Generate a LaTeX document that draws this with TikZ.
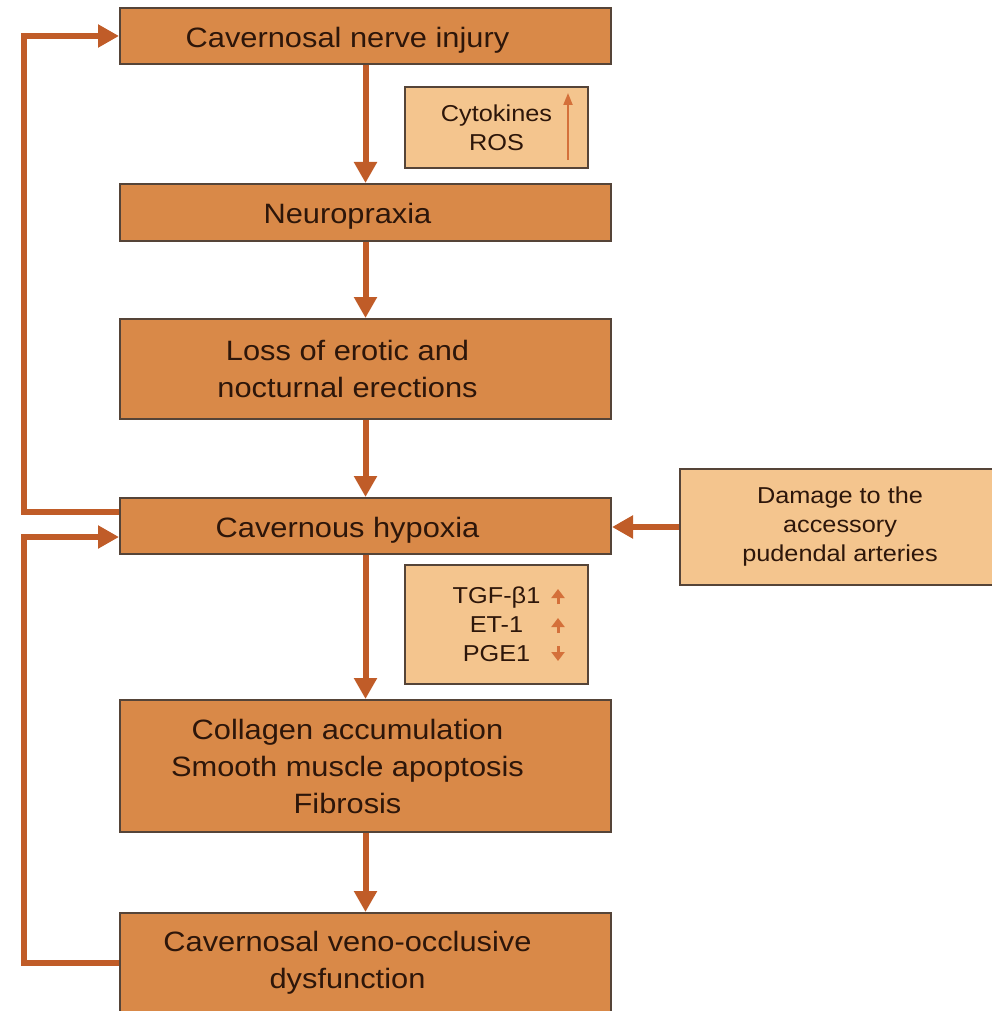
\documentclass[tikz,border=0pt]{standalone}
\usepackage{fontspec}
\setmainfont{Liberation Sans}[FakeStretch=1.1]
\usetikzlibrary{arrows.meta}
\definecolor{boxfill}{RGB}{217,137,72}
\definecolor{notefill}{RGB}{244,197,142}
\definecolor{edgecol}{RGB}{85,68,56}
\definecolor{flowcol}{RGB}{192,92,40}
\definecolor{markcol}{RGB}{212,112,58}
\definecolor{txtcol}{RGB}{45,22,10}

\begin{document}
\begin{tikzpicture}[x=1pt,y=-1pt,
  mainbox/.style={draw=edgecol,line width=2pt,fill=boxfill,minimum width=491pt},
  maintext/.style={xshift=-18pt,align=center,text=txtcol,font=\fontsize{28}{37}\selectfont},
  onetext/.style={maintext,yshift=-4pt},
  notebox/.style={draw=edgecol,line width=2pt,fill=notefill,align=center,text=txtcol,font=\fontsize{23}{29}\selectfont},
  flow/.style={draw=flowcol,line width=6pt,-{Triangle[length=21pt,width=22pt]}},
  updown/.style={draw=markcol,line width=3pt,-{Triangle[length=9pt,width=13pt]}}]

  \useasboundingbox (0,0) rectangle (992,1011);
  \clip (0,0) rectangle (992,1011);

  \node[mainbox,minimum height=56pt,label={[onetext,name=injurytxt]center:Cavernosal nerve injury}] (injury) at (365.5,36) {};
  \node[notebox,minimum width=183pt,minimum height=81pt] (cyto) at (496.5,127.5) {Cytokines\\ROS};
  \node[mainbox,minimum height=57pt,label={[onetext,name=neurotxt]center:Neuropraxia}] (neuro) at (365.5,212.5) {};
  \node[mainbox,minimum height=100pt,label={[maintext,name=losstxt]center:Loss of erotic and\\nocturnal erections}] (loss) at (365.5,369) {};
  \node[mainbox,minimum height=56pt,label={[onetext,name=hypoxiatxt]center:Cavernous hypoxia}] (hypoxia) at (365.5,526) {};
  \node[notebox,minimum width=320pt,minimum height=116pt] (damage) at (840,527) {Damage to the\\accessory\\pudendal arteries};
  \node[notebox,minimum width=183pt,minimum height=119pt] (factors) at (496.5,624.5) {TGF-β1\\ET-1\\PGE1};
  \node[mainbox,minimum height=132pt,label={[maintext,name=fibrosistxt]center:Collagen accumulation\\Smooth muscle apoptosis\\Fibrosis}] (fibrosis) at (365.5,766) {};
  \node[mainbox,minimum height=100pt,label={[maintext,name=venotxt]center:Cavernosal veno-occlusive\\dysfunction}] (veno) at (365.5,963) {};

  \draw[flow] (injury) -- (neuro);
  \draw[flow] (neuro) -- (loss);
  \draw[flow] (loss) -- (hypoxia);
  \draw[flow] (hypoxia) -- (fibrosis);
  \draw[flow] (fibrosis) -- (veno);

  \draw[flow] ([yshift=14pt]hypoxia.west) -- ++(-95,0) |- (injury.west);
  \draw[flow] (veno.west) -- ++(-95,0) |- ([yshift=-11pt]hypoxia.west);
  \draw[flow] (damage.west) -- (damage.west -| hypoxia.east);

  \draw[markcol,line width=2pt,-{Triangle[length=12pt,width=9pt]}] (568,160) -- (568,93);
  \draw[updown] (558,604) -- (558,589);
  \draw[updown] (558,633) -- (558,618);
  \draw[updown] (558,646) -- (558,661);

\end{tikzpicture}
\end{document}
